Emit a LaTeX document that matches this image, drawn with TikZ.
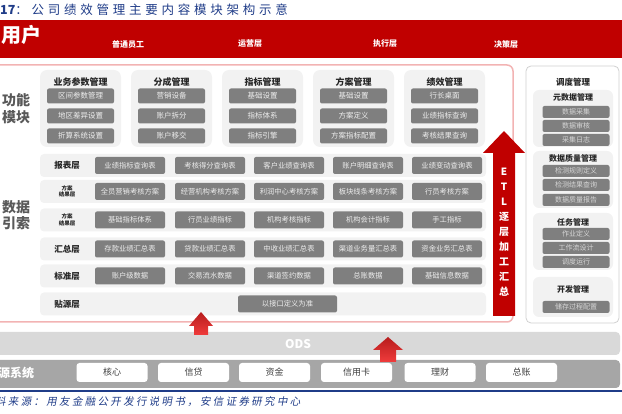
\documentclass[tikz,border=0pt]{standalone}
\usepackage{fontspec}
\setmainfont{Noto Sans CJK SC}
\newfontfamily\titlefont{Noto Sans CJK SC}[LetterSpace=30]
\newfontfamily\plainfont{Noto Sans CJK SC}
\newfontfamily\footfont{Noto Sans CJK SC}[FakeSlant=0.18,LetterSpace=22]
\definecolor{bred}{HTML}{C00000}
\definecolor{pinkb}{HTML}{F2B3B3}
\definecolor{grpg}{HTML}{F2F2F2}
\definecolor{itemg}{HTML}{7F7F7F}
\definecolor{itemt}{HTML}{EDEDED}
\definecolor{sitemt}{HTML}{D6D6D6}
\definecolor{darkt}{HTML}{262626}
\definecolor{labg}{HTML}{595959}
\definecolor{odsg}{HTML}{D9D9D9}
\definecolor{srcg}{HTML}{A6A6A6}
\definecolor{srct}{HTML}{404040}
\definecolor{titleb}{HTML}{1F3C88}
\definecolor{arrtop}{HTML}{B71C1C}
\definecolor{arrbot}{HTML}{F03C3C}
\definecolor{panelb}{HTML}{D0D0D0}
\newcommand\mkrow[7]{%
 \node[rowbox] (#2) at (263,#1) {};
 \node[ditem] (#2-1) at (130,#1) {#3};
 \node[ditem] (#2-2) at (210,#1) {#4};
 \node[ditem] (#2-3) at (289,#1) {#5};
 \node[ditem] (#2-4) at (368,#1) {#6};
 \node[ditem] (#2-5) at (447,#1) {#7};}
\begin{document}
\begin{tikzpicture}[x=1pt,y=-1pt,
  every node/.style={inner sep=0pt},
  grp/.style={fill=grpg,rounded corners=7pt,minimum width=81pt,minimum height=77pt},
  gtitle/.style={font=\fontsize{9}{9}\selectfont\bfseries,text=darkt},
  item/.style={fill=itemg,rounded corners=2pt,text=itemt,font=\fontsize{7.5}{7.5}\selectfont,minimum width=67pt,minimum height=15pt},
  rowbox/.style={fill=grpg,rounded corners=4pt,minimum width=446pt,minimum height=23pt},
  ditem/.style={fill=itemg,rounded corners=2pt,text=itemt,font=\fontsize{7.3}{7.3}\selectfont,minimum width=70pt,minimum height=17pt},
  rowlab/.style={font=\fontsize{8.5}{8.5}\selectfont\bfseries,text=darkt},
  rowlabs/.style={font=\fontsize{5.5}{6.5}\selectfont\bfseries,text=darkt,align=center},
  sgrp/.style={fill=grpg,rounded corners=6pt,minimum width=80pt},
  stitle/.style={font=\fontsize{8}{8}\selectfont\bfseries,text=darkt},
  sitem/.style={fill=itemg,rounded corners=2pt,text=sitemt,font=\fontsize{7}{7}\selectfont,minimum width=67pt,minimum height=12pt},
  banlab/.style={font=\fontsize{8}{8}\selectfont\bfseries,text=white},
  srcitem/.style={fill=white,rounded corners=3pt,minimum width=71pt,minimum height=19pt,text=srct,font=\fontsize{9}{9}\selectfont},
  bigarrow/.style={top color=arrtop,bottom color=arrbot}
]
\useasboundingbox (0,0) rectangle (622,414);
% title
\node[anchor=west,text=titleb,font=\titlefont\fontsize{12.5}{12.5}\selectfont] (title) at (0,10) {{\plainfont\bfseries 17}：公司绩效管理主要内容模块架构示意};
% banner
\node[fill=bred,minimum width=626pt,minimum height=38pt] (banner) at (311,39) {};
\node[anchor=west,text=white,font=\fontsize{20}{20}\selectfont\bfseries] (user) at (1,35) {用户};
\node[banlab] (b1) at (128,44) {普通员工};
\node[banlab] (b2) at (250,44) {运营层};
\node[banlab] (b3) at (385,44) {执行层};
\node[banlab] (b4) at (506,44) {决策层};
% main box and right panel
\node[draw=pinkb,line width=1.5pt,rounded corners=6pt,minimum width=530pt,minimum height=257pt] (mainbox) at (248,193.5) {};
\node[draw=panelb,line width=0.8pt,rounded corners=5pt,minimum width=93pt,minimum height=257pt] (sched) at (572.5,194.5) {};
% left labels
\node[font=\fontsize{14}{17}\selectfont\bfseries,text=labg,align=center] (fm) at (16,108.5) {功能\\模块};
\node[font=\fontsize{14}{16}\selectfont\bfseries,text=labg,align=center] (sj) at (16,215) {数据\\引索};
% function module groups
\foreach \i/\t/\a/\b/\c in {0/业务参数管理/区间参数管理/地区差异设置/折算系统设置,
  1/分成管理/营销设备/账户拆分/账户移交,
  2/指标管理/基础设置/指标体系/指标引擎,
  3/方案管理/基础设置/方案定义/方案指标配置,
  4/绩效管理/行长桌面/业绩指标查询/考核结果查询}{
  \pgfmathsetmacro\cx{80.5+91*\i}
  \node[grp] (g\i) at (\cx,108.5) {};
  \node[gtitle] (g\i-t) at (\cx,82) {\t};
  \node[item] (g\i-a) at (\cx,96) {\a};
  \node[item] (g\i-b) at (\cx,116) {\b};
  \node[item] (g\i-c) at (\cx,136) {\c};
}
% data rows
\mkrow{165.5}{ra}{业绩指标查询表}{考核得分查询表}{客户业绩查询表}{账户明细查询表}{业绩变动查询表}
\mkrow{191.5}{rb}{全员营销考核方案}{经营机构考核方案}{利润中心考核方案}{板块线条考核方案}{行员考核方案}
\mkrow{220}{rc}{基础指标体系}{行员业绩指标}{机构考核指标}{机构会计指标}{手工指标}
\mkrow{249}{rd}{存款业绩汇总表}{贷款业绩汇总表}{中收业绩汇总表}{渠道业务量汇总表}{资金业务汇总表}
\mkrow{276}{re}{账户级数据}{交易流水数据}{渠道签约数据}{总账数据}{基础信息数据}
\node[rowbox] (rf) at (263,304) {};
\node[ditem,minimum width=99pt] (rf-1) at (287.5,304) {以接口定义为准};
\node[rowlab] (la) at (67,165.5) {报表层};
\node[rowlabs] (lb) at (67,191.5) {方案\\结果层};
\node[rowlabs] (lc) at (67,220) {方案\\结果层};
\node[rowlab] (ld) at (67,249) {汇总层};
\node[rowlab] (le) at (67,276) {标准层};
\node[rowlab] (lf) at (67,304) {贴源层};
% right panel
\node[font=\fontsize{8.5}{8.5}\selectfont\bfseries,text=darkt] (rt) at (573,82) {调度管理};
\node[sgrp,minimum height=57pt] (r1) at (573,118.5) {};
\node[stitle] (r1-t) at (573,97) {元数据管理};
\node[sitem] (r1-a) at (576,112) {数据采集};
\node[sitem] (r1-b) at (576,126) {数据审核};
\node[sitem] (r1-c) at (576,140) {采集日志};
\node[sgrp,minimum height=57pt] (r2) at (573,179.5) {};
\node[stitle] (r2-t) at (573,158) {数据质量管理};
\node[sitem] (r2-a) at (576,171) {检测规则定义};
\node[sitem] (r2-b) at (576,185) {检测结果查询};
\node[sitem] (r2-c) at (576,200) {数据质量报告};
\node[sgrp,minimum height=57pt] (r3) at (573,241.5) {};
\node[stitle] (r3-t) at (573,222) {任务管理};
\node[sitem] (r3-a) at (576,234) {作业定义};
\node[sitem] (r3-b) at (576,248) {工作流设计};
\node[sitem] (r3-c) at (576,262) {调度运行};
\node[sgrp,minimum height=40pt] (r4) at (573,297) {};
\node[stitle] (r4-t) at (573,289) {开发管理};
\node[sitem] (r4-a) at (576,307) {储存过程配置};
% ETL arrow
\fill[bred] (493,316) -- (493,153) -- (483,153) -- (504,131) -- (525,153) -- (515,153) -- (515,316) -- cycle;
\node[font=\fontsize{10}{15}\selectfont\bfseries,text=white,align=center] (etl) at (504,232) {E\\T\\L\\逐\\层\\加\\工\\汇\\总};
% ODS and source bars
\node[fill=odsg,rounded corners=4pt,minimum width=625pt,minimum height=23pt] (ods) at (307.5,343.5) {};
\node[text=white,font=\fontsize{12}{12}\selectfont\bfseries] (odst) at (298,344) {ODS};
\node[fill=srcg,rounded corners=4pt,minimum width=625pt,minimum height=28pt] (src) at (307.5,374) {};
\node[anchor=west,text=white,font=\fontsize{12}{12}\selectfont\bfseries] (srct) at (-2,373) {源系统};
\foreach \i/\x/\t in {1/112/核心,2/193.5/信贷,3/274.5/资金,4/356.5/信用卡,5/440/理财,6/521.5/总账}{
  \node[srcitem] (s\i) at (\x,372.5) {\raisebox{-3pt}{\t}};
}
% bottom arrows
\shade[bigarrow] (194,335) -- (194,326) -- (189,326) -- (201,312) -- (213,326) -- (208,326) -- (208,335) -- cycle;
\shade[bigarrow] (380,362) -- (380,350) -- (373,350) -- (388,337) -- (403,350) -- (396,350) -- (396,362) -- cycle;
% footer
\draw[titleb,line width=1.2pt] (0,391) -- (622,391);
\node[anchor=west,text=titleb,font=\footfont\fontsize{10.5}{10.5}\selectfont] (foot) at (-5,402) {料来源：用友金融公开发行说明书，安信证券研究中心};
\end{tikzpicture}
\end{document}
